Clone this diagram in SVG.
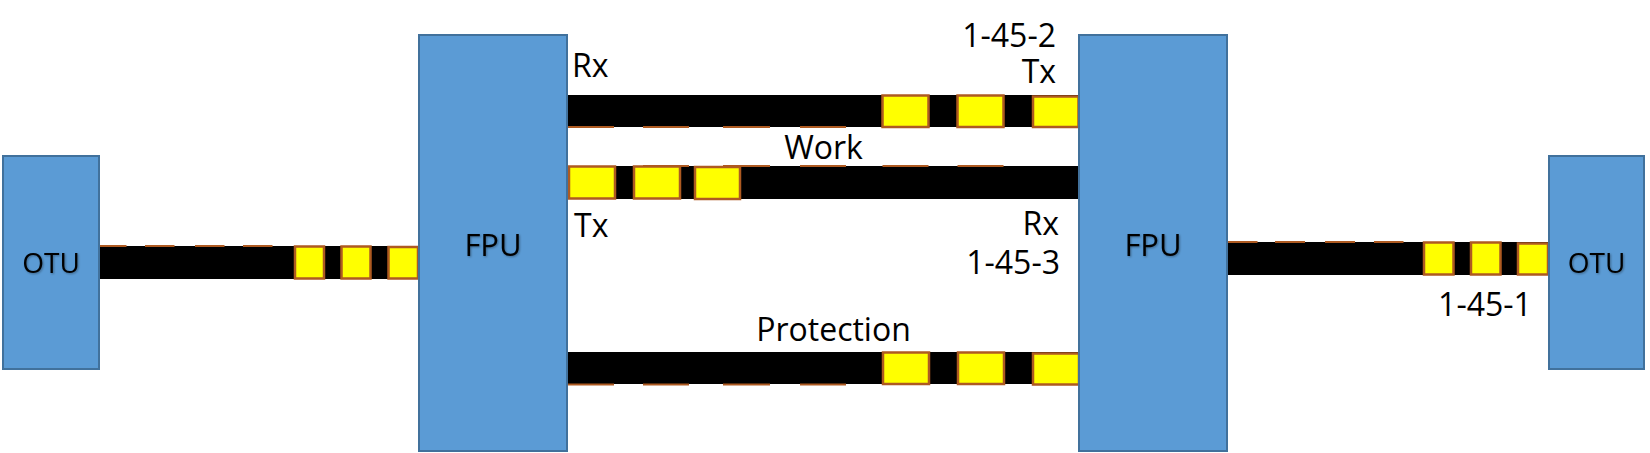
<svg xmlns="http://www.w3.org/2000/svg" width="1650" height="453" viewBox="0 0 1650 453">
<style>
.box{fill:#5B9BD5;stroke:#41719C;stroke-width:2}
.bar{fill:#000}
.sq{fill:#FFFF00;stroke:#AE5A21;stroke-width:2.5}
.dash{stroke:#AE5A21;stroke-width:2;fill:none}
.lbl{font-family:"Open Sans","Noto Sans",sans-serif;font-size:32px;fill:#000}
.nl{font-family:"Open Sans","Noto Sans",sans-serif;fill:#000;text-anchor:middle;filter:url(#sh)}
</style>
<defs>
<filter id="sh" x="-20%" y="-20%" width="140%" height="140%">
<feDropShadow dx="1" dy="1" stdDeviation="0.8" flood-color="#000" flood-opacity="0.35"/>
</filter>
</defs>
<g id="connectors">
<g id="link-otu-left">
<rect class="bar" x="97" y="246" width="322" height="33"/>
<path class="dash" d="M97 246H126.5M145 246H174.5M195 246H224.5M243 246H272.5"/>
<rect class="sq" x="295" y="246.5" width="29" height="32"/>
<rect class="sq" x="341.5" y="246.5" width="29" height="32"/>
<rect class="sq" x="388.5" y="247" width="29.5" height="31.5"/>
</g>
<g id="link-top">
<rect class="bar" x="567" y="95" width="512" height="32"/>
<path class="dash" d="M568 127H614M643 127H689M723 127H770M800 127H846"/>
<rect class="sq" x="882.5" y="95.5" width="46" height="31.5"/>
<rect class="sq" x="957.5" y="95.5" width="46" height="31.5"/>
<rect class="sq" x="1033" y="96.5" width="45.5" height="30.5"/>
</g>
<g id="link-work">
<rect class="bar" x="567" y="166" width="512" height="33"/>
<path class="dash" d="M643 166H689M723 166H770M800 166H846M882.5 166H928.5M957.5 166H1003.5"/>
<rect class="sq" x="569" y="166.5" width="46" height="32"/>
<rect class="sq" x="634" y="166.5" width="46" height="32"/>
<rect class="sq" x="695" y="167" width="45" height="32"/>
</g>
<g id="link-protection">
<rect class="bar" x="567" y="352" width="512" height="32"/>
<path class="dash" d="M568 384.5H614M643 384.5H689M723 384.5H770M800 384.5H846"/>
<rect class="sq" x="883" y="352.5" width="46" height="31.5"/>
<rect class="sq" x="958" y="352.5" width="46" height="31.5"/>
<rect class="sq" x="1033" y="353.5" width="46" height="31"/>
</g>
<g id="link-otu-right">
<rect class="bar" x="1227" y="242" width="322" height="33"/>
<path class="dash" d="M1227.5 242H1257.5M1275 242H1305M1325 242H1355M1374 242H1403.5"/>
<rect class="sq" x="1424" y="242.5" width="29.5" height="32"/>
<rect class="sq" x="1471" y="242.5" width="29.5" height="32"/>
<rect class="sq" x="1518" y="243.5" width="30" height="31"/>
</g>
</g>
<g id="otu-left">
<rect class="box" x="3" y="156" width="96" height="213"/>
<text class="nl" x="51" y="273" font-size="28">OTU</text>
</g>
<g id="fpu-left">
<rect class="box" x="419" y="35" width="148" height="416"/>
<text class="nl" x="493" y="256" font-size="31">FPU</text>
</g>
<g id="fpu-right">
<rect class="box" x="1079" y="35" width="148" height="416"/>
<text class="nl" x="1153" y="256" font-size="31">FPU</text>
</g>
<g id="otu-right">
<rect class="box" x="1549" y="156" width="95" height="213"/>
<text class="nl" x="1596.5" y="273" font-size="28">OTU</text>
</g>
<g id="labels">
<text class="lbl" x="572" y="77">Rx</text>
<text class="lbl" x="1056" y="47" text-anchor="end">1-45-2</text>
<text class="lbl" x="1056" y="83" text-anchor="end">Tx</text>
<text class="lbl" x="823.5" y="159" text-anchor="middle">Work</text>
<text class="lbl" x="574" y="237">Tx</text>
<text class="lbl" x="1059" y="235" text-anchor="end">Rx</text>
<text class="lbl" x="1060" y="274" text-anchor="end">1-45-3</text>
<text class="lbl" x="1485" y="316" text-anchor="middle">1-45-1</text>
<text class="lbl" x="833.5" y="341" text-anchor="middle">Protection</text>
</g>
</svg>
